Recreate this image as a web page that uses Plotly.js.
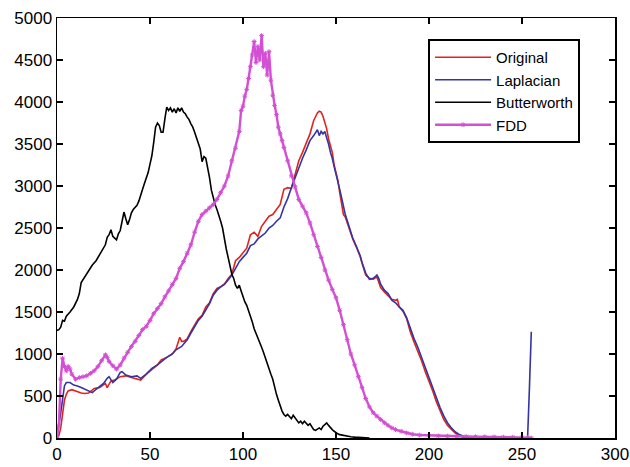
<!DOCTYPE html>
<html>
<head>
<meta charset="utf-8">
<script src="https://cdn.plot.ly/plotly-3.0.1.min.js"></script>
<style>html,body{margin:0;padding:0;background:#fff;}#chart{width:630px;height:467px;}</style>
</head>
<body>
<div id="chart"></div>
<script>
// Series names
const seriesNames = ["Original", "Laplacian", "Butterworth", "FDD"];

// Original (red)
const origX = [0,1,2,3,4,5,6,8,10,13,15,17,20,23,26,27,29,31,34,37,40,42,45,48,51,54,56,59,62,64,66,67,68,70,72,74,76,78,80,82,84,86,88,90,92,94,96,98,100,102,104,106,108,110,112,114,116,118,120,122,124,126,128,130,132,134,136,138,140,141,142,143,144,145,146,147,148,149,150,151,152,153,154,155,157,159,161,163,164,166,168,170,172,173,174,176,178,180,182,183,184,186,188,190,192,194,196,198,200,202,204,206,208,210,212,214,216,218,220,230,240,250,255];
const origY = [0,30,120,300,450,520,560,575,560,535,530,535,590,600,650,600,680,690,730,740,720,710,690,760,810,870,930,960,1000,1060,1200,1150,1150,1180,1270,1340,1420,1460,1560,1610,1720,1780,1800,1830,1900,1950,2110,2150,2200,2260,2420,2450,2400,2520,2580,2640,2660,2720,2780,2960,2980,2970,3150,3300,3400,3500,3620,3780,3870,3890,3880,3830,3750,3680,3560,3470,3400,3250,3150,3070,2920,2800,2660,2630,2500,2370,2270,2160,2080,1940,1900,1890,1920,1840,1790,1740,1700,1650,1640,1650,1560,1510,1420,1260,1140,1040,920,790,680,560,430,320,220,150,100,60,30,10,3,0,0,0,0];

// Laplacian (blue)
const lapX = [0,1,2,3,4,5,7,9,11,13,15,17,19,21,23,25,27,28,30,32,34,35,37,40,43,45,48,51,54,56,59,62,64,67,70,72,74,76,78,80,82,84,86,88,90,92,94,96,98,100,102,104,106,108,110,112,114,116,118,120,122,124,126,128,130,132,134,136,138,140,141,142,143,144,145,146,147,148,149,150,151,152,153,154,155,157,159,161,163,164,166,168,170,171,172,173,174,176,178,180,182,184,186,188,190,192,194,196,198,200,202,204,206,208,210,212,214,216,218,220,222,230,240,250,253,254,255];
const lapY = [80,150,300,500,620,660,660,630,620,600,580,560,540,580,610,650,710,730,660,700,780,790,750,730,740,710,760,830,870,910,960,1000,1050,1090,1170,1250,1330,1400,1450,1530,1600,1700,1760,1800,1830,1880,1940,2020,2100,2150,2200,2290,2310,2370,2400,2440,2500,2530,2580,2620,2750,2850,2980,3100,3230,3330,3430,3540,3600,3670,3600,3650,3620,3650,3570,3500,3400,3330,3230,3150,3060,2960,2860,2740,2660,2520,2380,2280,2170,2090,1960,1890,1900,1920,1940,1900,1830,1760,1720,1640,1610,1560,1520,1430,1300,1180,1080,970,840,720,600,470,360,260,180,120,75,45,25,10,2,0,0,0,0,600,1265];

// Butterworth (black)
const butX = [0,1,2,3,4,5,7,9,11,12,13,15,17,19,21,22,24,26,27,28,29,30,31,32,33,34,35,36,37,38,39,40,41,42,43,44,45,46,47,48,49,50,51,52,53,54,55,56,57,58,59,60,61,62,63,64,65,66,67,68,69,70,71,72,73,74,75,76,77,78,79,80,81,82,83,84,85,86,87,88,89,90,91,92,93,94,95,96,97,98,99,100,101,102,103,104,105,106,107,108,109,110,111,112,113,114,115,116,117,118,119,120,121,122,123,124,125,126,127,128,129,130,131,132,133,134,135,136,137,138,139,140,141,142,143,144,145,146,147,148,149,150,151,152,154,156,158,160,163,166,168];
const butY = [1280,1290,1320,1400,1390,1450,1500,1560,1650,1720,1850,1920,1990,2060,2110,2150,2230,2300,2390,2420,2480,2400,2380,2360,2430,2470,2580,2690,2610,2540,2600,2680,2720,2750,2770,2820,2880,2960,3030,3100,3160,3260,3360,3520,3700,3750,3720,3640,3640,3800,3940,3900,3930,3880,3920,3870,3930,3890,3930,3880,3860,3820,3790,3740,3700,3640,3580,3520,3440,3290,3350,3330,3230,3100,2950,2850,2780,2720,2660,2580,2500,2350,2250,2150,2050,1950,1900,1820,1780,1820,1750,1680,1620,1580,1520,1450,1380,1300,1250,1200,1150,1080,1020,950,880,820,760,700,600,520,450,380,320,280,260,280,250,230,270,240,200,180,200,170,200,170,150,170,130,100,90,110,120,100,140,160,180,150,120,100,80,60,50,40,30,20,15,10,8,5,0];

// FDD (magenta)
const fddX = [0,1,2,3,4,5,6,7,8,10,12,14,16,18,20,22,24,26,27,28,30,32,34,36,38,40,42,44,46,48,50,52,54,56,58,60,62,64,66,68,70,72,74,76,78,80,82,84,86,88,90,92,94,96,98,99,100,101,102,103,104,105,106,107,108,109,110,111,112,113,114,115,116,117,118,119,120,121,122,124,126,128,130,132,134,136,138,140,142,144,146,148,150,152,154,156,158,160,162,164,166,168,170,172,174,176,178,180,182,185,188,191,195,200,205,210,215,220,225,230,235,240,245,250,253,255];
const fddY = [0,150,700,950,850,800,850,820,760,700,720,730,740,770,800,850,920,990,960,910,860,820,870,950,1020,1090,1150,1220,1290,1330,1400,1480,1540,1600,1680,1750,1830,1900,2020,2100,2200,2300,2450,2580,2660,2700,2740,2780,2840,2920,3000,3120,3300,3450,3650,3900,3950,4070,4150,4280,4420,4560,4720,4470,4660,4500,4790,4420,4580,4320,4600,4260,4080,3960,3850,3700,3620,3540,3460,3300,3120,2990,2840,2760,2680,2560,2420,2280,2150,2000,1880,1770,1670,1520,1350,1170,1000,870,730,600,470,370,300,260,220,180,150,120,100,80,60,45,35,30,25,22,20,18,15,14,12,10,10,8,5,0];

// Axis ticks
const xTicks = [0,50,100,150,200,250,300];
const yTicks = [0,500,1000,1500,2000,2500,3000,3500,4000,4500,5000];

const colors = ["#e0231e", "#3434a4", "#000000", "#d34fd3"];
const font = "Liberation Sans, Arial, Helvetica, sans-serif";

const traces = [
  {x: origX, y: origY, name: seriesNames[0], type: "scatter", mode: "lines",
   line: {color: colors[0], width: 1.6}, legendgroup: "a"},
  {x: lapX, y: lapY, name: seriesNames[1], type: "scatter", mode: "lines",
   line: {color: colors[1], width: 1.6}, legendgroup: "b"},
  {x: butX, y: butY, name: seriesNames[2], type: "scatter", mode: "lines",
   line: {color: colors[2], width: 1.6}, legendgroup: "c"},
  {x: fddX, y: fddY, name: seriesNames[3], type: "scatter", mode: "lines+markers",
   line: {color: colors[3], width: 2.4},
   marker: {symbol: "asterisk-open", size: 4, color: colors[3], line: {color: colors[3], width: 1}},
   legendgroup: "d"}
];

const axisCommon = {
  showgrid: false, zeroline: false, showline: true, mirror: "ticks",
  linecolor: "#000", linewidth: 1.5, ticks: "inside", ticklen: 6,
  tickwidth: 1.5, tickcolor: "#000",
  tickfont: {family: font, size: 17, color: "#000"}
};

const layout = {
  width: 630, height: 467,
  margin: {l: 57, r: 15, t: 18, b: 29},
  paper_bgcolor: "#fff", plot_bgcolor: "#fff",
  showlegend: true,
  xaxis: Object.assign({}, axisCommon, {range: [0, 300], tickvals: xTicks, ticktext: xTicks.map(String)}),
  yaxis: Object.assign({}, axisCommon, {range: [0, 5000], tickvals: yTicks, ticktext: yTicks.map(String)}),
  legend: {
    x: 0.665, y: 0.95, xanchor: "left", yanchor: "top",
    bgcolor: "#fff", bordercolor: "#000", borderwidth: 2,
    font: {family: font, size: 15, color: "#000"},
    tracegroupgap: 4, traceorder: "normal", itemwidth: 56
  }
};

Plotly.newPlot("chart", traces, layout, {displayModeBar: false, staticPlot: true});
</script>
</body>
</html>
